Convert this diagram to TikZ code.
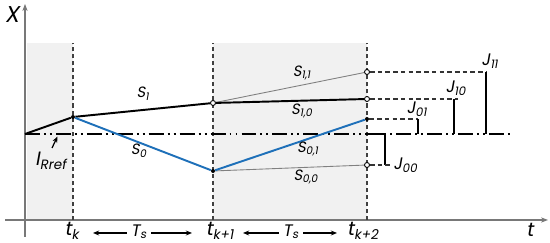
\documentclass[tikz,border=0pt]{standalone}
\usepackage{fontspec}
\setmainfont{Poppins}[FakeSlant=0.18]
\usepackage{tikz,xcolor}
\usetikzlibrary{arrows.meta}

\definecolor{lineblue}{RGB}{30,112,185}
\definecolor{shadegray}{RGB}{241,241,241}
\definecolor{axisgray}{RGB}{120,120,120}

\tikzset{
  axisline/.style={axisgray, line width=0.6pt, -{Stealth[length=4pt,width=3pt]}},
  vdash/.style={black!75, line width=0.9pt, dash pattern=on 2.3pt off 1.7pt},
  hdash/.style={black!80, line width=0.9pt, dash pattern=on 2.6pt off 1.8pt},
  refline/.style={black, line width=1.2pt, dash pattern=on 8.5pt off 2.3pt on 1.1pt off 2.3pt on 1.1pt off 2.3pt},
  thickline/.style={black, line width=1.1pt},
  blueline/.style={lineblue, line width=1.1pt},
  thinline/.style={black!50, line width=0.5pt},
  jline/.style={black, line width=0.8pt},
  fdot/.style={circle, fill=black, inner sep=0pt, minimum size=0.08cm},
  odot/.style={circle, draw=black, fill=white, line width=0.5pt, inner sep=0pt, minimum size=0.1cm},
  lbl/.style={inner sep=0pt, font=\fontsize{8.5}{9}\selectfont},
  jlbl/.style={inner sep=0pt, font=\fontsize{9.5}{10}\selectfont},
  tlbl/.style={inner sep=0pt, font=\fontsize{11}{12}\selectfont},
  tsarrow/.style={black, line width=0.6pt, -{Stealth[length=3.5pt,width=2.8pt]}}
}

\begin{document}
\begin{tikzpicture}
    \useasboundingbox (0,0) rectangle (11,4.86);

    % Shaded sampling periods
    \fill[shadegray] (0.54,0.46) rectangle (1.46,4.0);
    \fill[shadegray] (4.26,0.46) rectangle (7.34,4.0);

    % Axes
    \draw[axisline] (0.1,0.46) -- (10.96,0.46);
    \draw[axisline] (0.5,0.12) -- (0.5,4.78);
    \node[tlbl] (xlab) at (0.24,4.56) {\fontsize{13}{14}\selectfont X};
    \node[tlbl] (tlab) at (10.6,0.26) {t};

    % Sampling instants
    \draw[vdash] (1.46,0.46) -- (1.46,4.0);
    \draw[vdash] (4.26,0.46) -- (4.26,4.0);
    \draw[vdash] (7.34,0.46) -- (7.34,4.0);

    % Reference line
    \coordinate (ref0) at (0.5,2.18);
    \coordinate (ref1) at (10.2,2.18);
    \draw[refline] (ref0) -- (ref1);

    % Switching points
    \coordinate (p0) at (0.5,2.18);
    \node[fdot] (pa) at (1.46,2.52) {};
    \node[odot] (pb) at (4.26,2.80) {};
    \node[fdot] (pc) at (4.26,1.44) {};
    \node[odot] (d11) at (7.34,3.42) {};
    \node[odot] (d10) at (7.34,2.88) {};
    \node[fdot] (d01) at (7.34,2.48) {};
    \node[odot] (d00) at (7.34,1.56) {};

    % Trajectories
    \draw[thinline] (pb) -- (d11);
    \draw[thinline] (pc) -- (d00);
    \draw[thickline] (p0) -- (pa) -- (pb) -- (d10);
    \draw[blueline] (pa) -- (pc) -- (d01);

    % Trajectory labels
    \node[lbl] (s1) at (2.86,2.98) {S\textsubscript{1}};
    \node[lbl] (s0) at (2.78,1.84) {S\textsubscript{0}};
    \node[lbl] (s11) at (6.04,3.40) {S\textsubscript{1,1}};
    \node[lbl] (s10) at (6.04,2.64) {S\textsubscript{1,0}};
    \node[lbl] (s01) at (6.16,1.88) {S\textsubscript{0,1}};
    \node[lbl] (s00) at (6.12,1.32) {S\textsubscript{0,0}};

    % Reference label
    \node[tlbl] (iref) at (1.02,1.64) {I\textsubscript{Rref}};
    \coordinate (irefTip) at (1.15,2.13);
    \draw[black, line width=0.7pt, -{Stealth[length=3.5pt,width=2.8pt]}] (iref.north) ++(0.02,0.08) -- (irefTip);

    % Costs
    \coordinate (j11b) at (9.72,2.18);
    \coordinate (j11t) at (9.72,3.42);
    \coordinate (j10b) at (9.08,2.18);
    \coordinate (j10t) at (9.08,2.88);
    \coordinate (j01b) at (8.36,2.18);
    \coordinate (j01t) at (8.36,2.48);
    \draw[hdash] (d11) -- (j11t);
    \draw[hdash] (d10) -- (9.16,2.88);
    \draw[hdash] (d01) -- (j01t);
    \draw[jline] (j11b) -- (j11t);
    \draw[jline] (j10b) -- (j10t);
    \draw[jline] (j01b) -- (j01t);
    \node[jlbl] (j11) at (9.8,3.64) {J\textsubscript{11}};
    \node[jlbl] (j10) at (9.12,3.10) {J\textsubscript{10}};
    \node[jlbl] (j01) at (8.34,2.68) {J\textsubscript{01}};
    \node[jlbl, anchor=west] (j00) at (7.86,1.56) {J\textsubscript{00}};
    \draw[jline] (7.34,2.18) -| (7.70,1.56);
    \draw[hdash] (d00) -- (j00.west);

    % Sampling times
    \node[tlbl] (tk) at (1.44,0.24) {t\textsubscript{k}};
    \node[tlbl] (tk1) at (4.4,0.24) {t\textsubscript{k+1}};
    \node[tlbl] (tk2) at (7.26,0.24) {t\textsubscript{k+2}};
    \node[jlbl] (ts1) at (2.78,0.22) {T\textsubscript{s}};
    \node[jlbl] (ts2) at (5.82,0.22) {T\textsubscript{s}};
    \draw[tsarrow] (ts1.west) ++(-0.08,-0.02) -- (1.86,0.2);
    \draw[tsarrow] (ts1.east) ++(0.08,-0.02) -- (3.84,0.2);
    \draw[tsarrow] (ts2.west) ++(-0.08,-0.02) -- (4.86,0.2);
    \draw[tsarrow] (ts2.east) ++(0.08,-0.02) -- (6.74,0.2);

\end{tikzpicture}
\end{document}
